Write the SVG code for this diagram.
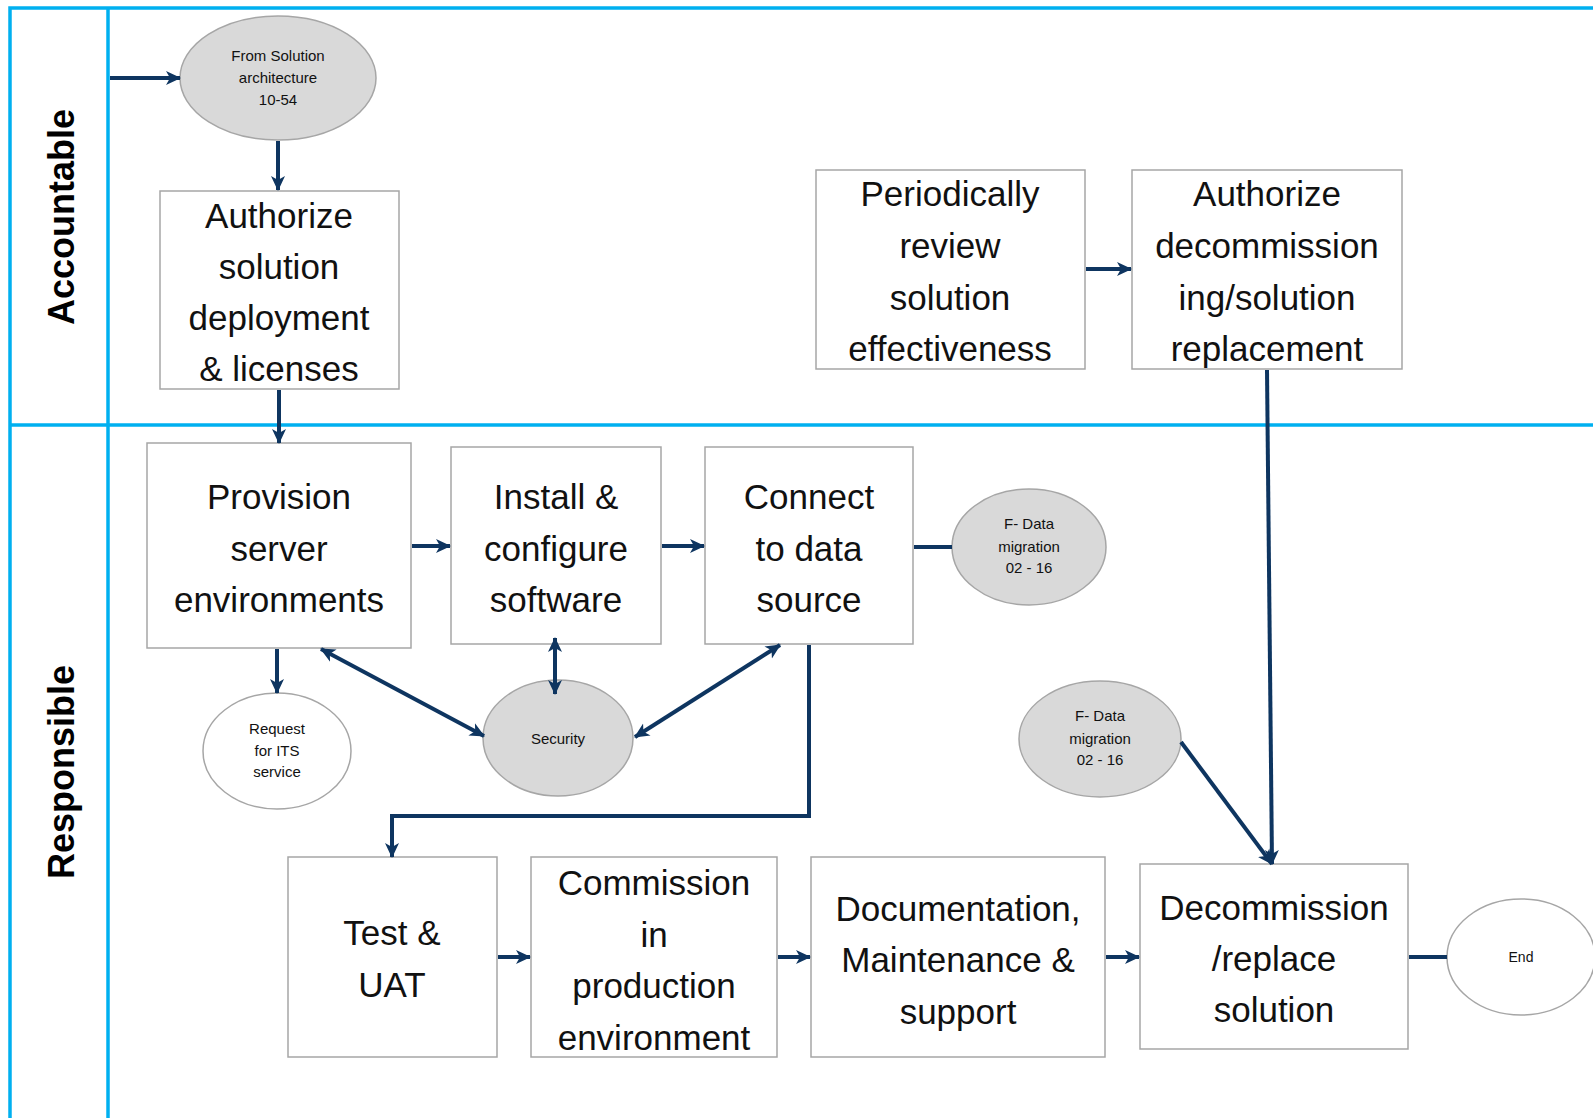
<svg xmlns="http://www.w3.org/2000/svg" width="1593" height="1118" viewBox="0 0 1593 1118">
<style>
.lane{stroke:#00b0f0;stroke-width:3.5;fill:none}
.box{fill:#fff;stroke:#a6a6a6;stroke-width:1.5}
.ell{fill:#d9d9d9;stroke:#a6a6a6;stroke-width:1.5}
.ellw{fill:#fff;stroke:#a6a6a6;stroke-width:1.5}
.t{font-family:"Liberation Sans",Arial,sans-serif;font-size:35px;fill:#111;text-anchor:middle}
.s{font-family:"Liberation Sans",Arial,sans-serif;font-size:15px;fill:#111;text-anchor:middle}
.lab{font-family:"Liberation Sans",Arial,sans-serif;font-size:36px;font-weight:bold;fill:#000;text-anchor:middle}
.c{stroke:#0e3560;stroke-width:4;fill:none}
.a{marker-end:url(#ah)}
.d{marker-start:url(#ah);marker-end:url(#ah)}
</style>
<defs>
<marker id="ah" markerUnits="userSpaceOnUse" markerWidth="16" markerHeight="16" refX="14" refY="8" orient="auto-start-reverse" viewBox="0 0 16 16">
<path d="M0,1 L15,8 L0,15 L4,8 z" fill="#0e3560"/>
</marker>
</defs>
<rect width="1593" height="1118" fill="#fff"/>
<g id="lanes">
<path class="lane" d="M10,1118 V8 H1593"/>
<path class="lane" d="M108,8 V1118"/>
<path class="lane" d="M10,425 H1593"/>
<text class="lab" transform="translate(74,217) rotate(-90)">Accountable</text>
<text class="lab" transform="translate(74,772) rotate(-90)">Responsible</text>
</g>
<g id="from-solution">
<ellipse class="ell" cx="278" cy="78" rx="98" ry="62"/>
<text class="s" x="278" y="61">From Solution</text>
<text class="s" x="278" y="83">architecture</text>
<text class="s" x="278" y="105">10-54</text>
</g>
<g id="authorize-deployment">
<rect class="box" x="160" y="191" width="239" height="198"/>
<text class="t" x="279" y="228">Authorize</text>
<text class="t" x="279" y="279">solution</text>
<text class="t" x="279" y="330">deployment</text>
<text class="t" x="279" y="381">&amp; licenses</text>
</g>
<g id="periodically-review">
<rect class="box" x="816" y="170" width="269" height="199"/>
<text class="t" x="950" y="206">Periodically</text>
<text class="t" x="950" y="258">review</text>
<text class="t" x="950" y="310">solution</text>
<text class="t" x="950" y="361">effectiveness</text>
</g>
<g id="authorize-decommission">
<rect class="box" x="1132" y="170" width="270" height="199"/>
<text class="t" x="1267" y="206">Authorize</text>
<text class="t" x="1267" y="258">decommission</text>
<text class="t" x="1267" y="310">ing/solution</text>
<text class="t" x="1267" y="361">replacement</text>
</g>
<g id="provision">
<rect class="box" x="147" y="443" width="264" height="205"/>
<text class="t" x="279" y="509">Provision</text>
<text class="t" x="279" y="561">server</text>
<text class="t" x="279" y="612">environments</text>
</g>
<g id="install">
<rect class="box" x="451" y="447" width="210" height="197"/>
<text class="t" x="556" y="509">Install &amp;</text>
<text class="t" x="556" y="561">configure</text>
<text class="t" x="556" y="612">software</text>
</g>
<g id="connect">
<rect class="box" x="705" y="447" width="208" height="197"/>
<text class="t" x="809" y="509">Connect</text>
<text class="t" x="809" y="561">to data</text>
<text class="t" x="809" y="612">source</text>
</g>
<g id="fdata1">
<ellipse class="ell" cx="1029" cy="547" rx="77" ry="58"/>
<text class="s" x="1029" y="529">F- Data</text>
<text class="s" x="1029" y="552">migration</text>
<text class="s" x="1029" y="573">02 - 16</text>
</g>
<g id="fdata2">
<ellipse class="ell" cx="1100" cy="739" rx="81" ry="58"/>
<text class="s" x="1100" y="721">F- Data</text>
<text class="s" x="1100" y="744">migration</text>
<text class="s" x="1100" y="765">02 - 16</text>
</g>
<g id="request">
<ellipse class="ellw" cx="277" cy="751" rx="74" ry="58"/>
<text class="s" x="277" y="734">Request</text>
<text class="s" x="277" y="756">for ITS</text>
<text class="s" x="277" y="777">service</text>
</g>
<g id="security">
<ellipse class="ell" cx="558" cy="738" rx="75" ry="58"/>
<text class="s" x="558" y="744">Security</text>
</g>
<g id="test">
<rect class="box" x="288" y="857" width="209" height="200"/>
<text class="t" x="392" y="945">Test &amp;</text>
<text class="t" x="392" y="997">UAT</text>
</g>
<g id="commission">
<rect class="box" x="531" y="857" width="246" height="200"/>
<text class="t" x="654" y="895">Commission</text>
<text class="t" x="654" y="947">in</text>
<text class="t" x="654" y="998">production</text>
<text class="t" x="654" y="1050">environment</text>
</g>
<g id="documentation">
<rect class="box" x="811" y="857" width="294" height="200"/>
<text class="t" x="958" y="921">Documentation,</text>
<text class="t" x="958" y="972">Maintenance &amp;</text>
<text class="t" x="958" y="1024">support</text>
</g>
<g id="decommission">
<rect class="box" x="1140" y="864" width="268" height="185"/>
<text class="t" x="1274" y="920">Decommission</text>
<text class="t" x="1274" y="971">/replace</text>
<text class="t" x="1274" y="1022">solution</text>
</g>
<g id="end">
<ellipse class="ellw" cx="1521" cy="957" rx="74" ry="58"/>
<text class="s" x="1521" y="962" style="font-size:14px">End</text>
</g>
<g id="connectors">
<path class="c a" d="M110,78 H180"/>
<path class="c a" d="M278,141 V190"/>
<path class="c a" d="M279,390 V443"/>
<path class="c a" d="M1086,269 H1131"/>
<path class="c a" d="M1267,370 L1272,864"/>
<path class="c a" d="M1181,742 L1272,864"/>
<path class="c a" d="M412,546 H450"/>
<path class="c a" d="M662,546 H704"/>
<path class="c" d="M914,547 H952"/>
<path class="c a" d="M277,649 V693"/>
<path class="c d" d="M321,649 L484,736"/>
<path class="c d" d="M555,638 V694"/>
<path class="c d" d="M780,645 L635,737"/>
<path class="c a" d="M809,645 V816 H392 V857"/>
<path class="c a" d="M498,957 H530"/>
<path class="c a" d="M778,957 H810"/>
<path class="c a" d="M1106,957 H1139"/>
<path class="c" d="M1409,957 H1447"/>
</g>
</svg>
